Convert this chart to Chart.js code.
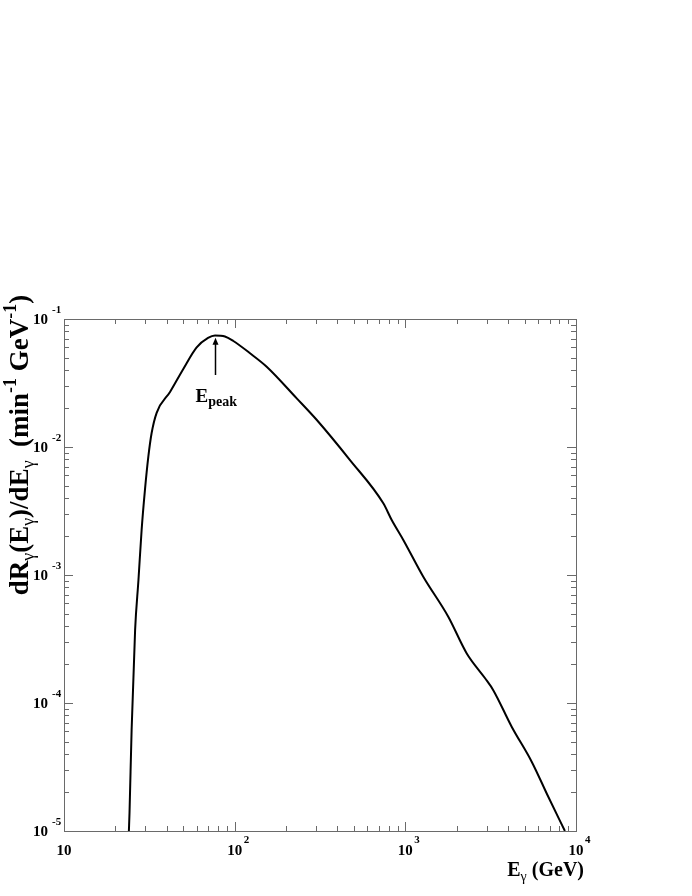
<!DOCTYPE html>
<html>
<head>
<meta charset="utf-8">
<script src="https://cdn.jsdelivr.net/npm/chart.js@4.4.1/dist/chart.umd.min.js"></script>
<style>
html,body{margin:0;padding:0;background:#fff;}
#wrap{position:relative;width:692px;height:896px;}
</style>
</head>
<body>
<div id="wrap"><canvas id="c" width="692" height="896"></canvas></div>
<script>
// ---- data ----
const energyGeV = [24.0, 24.2, 24.9, 26.1, 27.3, 28.5, 29.8, 31.2, 32.6, 34.9, 41.8, 50.0, 59.9, 69.8, 76.7, 87.7, 98.2, 123, 154, 231, 303, 474, 743, 832, 973, 1274, 1785, 2290, 2933, 3275, 4198, 5500, 6880, 8610];
const rate = [1.0e-5, 1.38e-5, 6.15e-5, 3.72e-4, 9.1e-4, 2.25e-3, 4.6e-3, 8.4e-3, 1.28e-2, 1.85e-2, 2.69e-2, 4.07e-2, 6.00e-2, 7.11e-2, 7.43e-2, 7.30e-2, 6.73e-2, 5.40e-2, 4.24e-2, 2.40e-2, 1.625e-2, 7.9e-3, 3.63e-3, 2.69e-3, 1.88e-3, 9.7e-4, 4.72e-4, 2.44e-4, 1.56e-4, 1.26e-4, 6.53e-5, 3.48e-5, 1.85e-5, 1.0e-5];
const xTickExponents = [1, 2, 3, 4];
const yTickExponents = [-5, -4, -3, -2, -1];
const peakE = 76.7;
const arrowFrom = 0.0365;
const arrowTo = 0.0715;
const peakLabelAt = 0.0225;

const SERIF = '"Liberation Serif", "DejaVu Serif", serif';

function drawRich(ctx, segs, x, y, align) {
  let total = 0;
  for (const s of segs) {
    ctx.font = (s.bold === false ? '' : 'bold ') + s.size + 'px ' + SERIF;
    s.w = ctx.measureText(s.t).width;
    total += s.w;
  }
  let cx = align === 'center' ? x - total / 2 : (align === 'right' ? x - total : x);
  ctx.textBaseline = 'alphabetic';
  ctx.textAlign = 'left';
  for (const s of segs) {
    ctx.font = (s.bold === false ? '' : 'bold ') + s.size + 'px ' + SERIF;
    ctx.fillText(s.t, cx, y + (s.dy || 0));
    cx += s.w;
  }
  return total;
}

const framePlugin = {
  id: 'frame',
  afterDraw(chart) {
    const ctx = chart.ctx;
    const a = chart.chartArea;
    const xs = chart.scales.x, ys = chart.scales.y;
    ctx.save();
    ctx.strokeStyle = '#6a6a6a';
    ctx.lineWidth = 1;
    ctx.strokeRect(Math.round(a.left) + 0.5, Math.round(a.top) + 0.5, Math.round(a.right - a.left), Math.round(a.bottom - a.top));
    ctx.beginPath();
    for (let e = xTickExponents[0]; e <= xTickExponents[xTickExponents.length - 1]; e++) {
      for (let m = 1; m <= 9; m++) {
        const v = m * Math.pow(10, e);
        if (v < xs.min || v > xs.max) continue;
        const px = Math.round(xs.getPixelForValue(v)) + 0.5;
        const len = m === 1 ? 9 : 5;
        ctx.moveTo(px, a.bottom); ctx.lineTo(px, a.bottom - len);
        ctx.moveTo(px, a.top); ctx.lineTo(px, a.top + len);
      }
    }
    for (let e = yTickExponents[0]; e <= yTickExponents[yTickExponents.length - 1]; e++) {
      for (let m = 1; m <= 9; m++) {
        const v = m * Math.pow(10, e);
        if (v < ys.min * 0.999 || v > ys.max * 1.001) continue;
        const py = Math.round(ys.getPixelForValue(v)) + 0.5;
        const len = m === 1 ? 9 : 5;
        ctx.moveTo(a.left, py); ctx.lineTo(a.left + len, py);
        ctx.moveTo(a.right, py); ctx.lineTo(a.right - len, py);
      }
    }
    ctx.stroke();

    ctx.fillStyle = '#000';
    for (const e of xTickExponents) {
      const px = xs.getPixelForValue(Math.pow(10, e));
      ctx.font = 'bold 15px ' + SERIF;
      ctx.textAlign = 'center';
      ctx.textBaseline = 'alphabetic';
      ctx.fillText('10', px, a.bottom + 24);
      if (e !== 1) {
        ctx.font = 'bold 11px ' + SERIF;
        ctx.textAlign = 'left';
        ctx.fillText(String(e), px + 9, a.bottom + 12);
      }
    }
    for (const e of yTickExponents) {
      const py = ys.getPixelForValue(Math.pow(10, e));
      ctx.font = 'bold 15px ' + SERIF;
      ctx.textAlign = 'right';
      ctx.textBaseline = 'alphabetic';
      ctx.fillText('10', a.left - 16, py + 5);
      ctx.font = 'bold 11px ' + SERIF;
      ctx.textAlign = 'left';
      ctx.fillText(String(e), a.left - 12, py - 6);
    }

    drawRich(ctx, [
      {t: 'E', size: 20},
      {t: '\u03b3', size: 14, dy: 5, bold: false},
      {t: ' (GeV)', size: 20}
    ], a.right + 8, a.bottom + 45, 'right');

    ctx.save();
    ctx.translate(28, (a.top + a.bottom) / 2 - 130);
    ctx.rotate(-Math.PI / 2);
    drawRich(ctx, [
      {t: 'dR', size: 27},
      {t: '\u03b3', size: 18, dy: 6, bold: false},
      {t: '(E', size: 27},
      {t: '\u03b3', size: 18, dy: 6, bold: false},
      {t: ')/dE', size: 27},
      {t: '\u03b3', size: 18, dy: 6, bold: false},
      {t: '  (min', size: 27},
      {t: '-1', size: 18, dy: -12},
      {t: ' GeV', size: 27},
      {t: '-1', size: 18, dy: -12},
      {t: ')', size: 27}
    ], 0, 0, 'center');
    ctx.restore();

    const ax = Math.round(xs.getPixelForValue(peakE)) + 0.5;
    const y0 = ys.getPixelForValue(arrowFrom);
    const y1 = ys.getPixelForValue(arrowTo);
    ctx.strokeStyle = '#000';
    ctx.lineWidth = 1.5;
    ctx.beginPath();
    ctx.moveTo(ax, y0); ctx.lineTo(ax, y1 + 4);
    ctx.stroke();
    ctx.beginPath();
    ctx.moveTo(ax, y1); ctx.lineTo(ax - 3, y1 + 7); ctx.lineTo(ax + 3, y1 + 7); ctx.closePath();
    ctx.fillStyle = '#000';
    ctx.fill();
    const ly = ys.getPixelForValue(peakLabelAt);
    drawRich(ctx, [
      {t: 'E', size: 19},
      {t: 'peak', size: 14, dy: 4}
    ], ax - 20, ly, 'left');
    ctx.restore();
  }
};

new Chart(document.getElementById('c'), {
  type: 'line',
  data: {
    datasets: [{
      data: energyGeV.map((e, i) => ({x: e, y: rate[i]})),
      borderColor: '#000',
      borderWidth: 2,
      pointRadius: 0,
      fill: false,
      cubicInterpolationMode: 'monotone'
    }]
  },
  options: {
    responsive: false,
    animation: false,
    devicePixelRatio: 1,
    layout: {padding: {left: 64, top: 319, right: 116, bottom: 65}},
    plugins: {legend: {display: false}, tooltip: {enabled: false}},
    scales: {
      x: {type: 'logarithmic', min: 10, max: 10000, display: false},
      y: {type: 'logarithmic', min: 1e-5, max: 1e-1, display: false}
    }
  },
  plugins: [framePlugin]
});
</script>
</body>
</html>
